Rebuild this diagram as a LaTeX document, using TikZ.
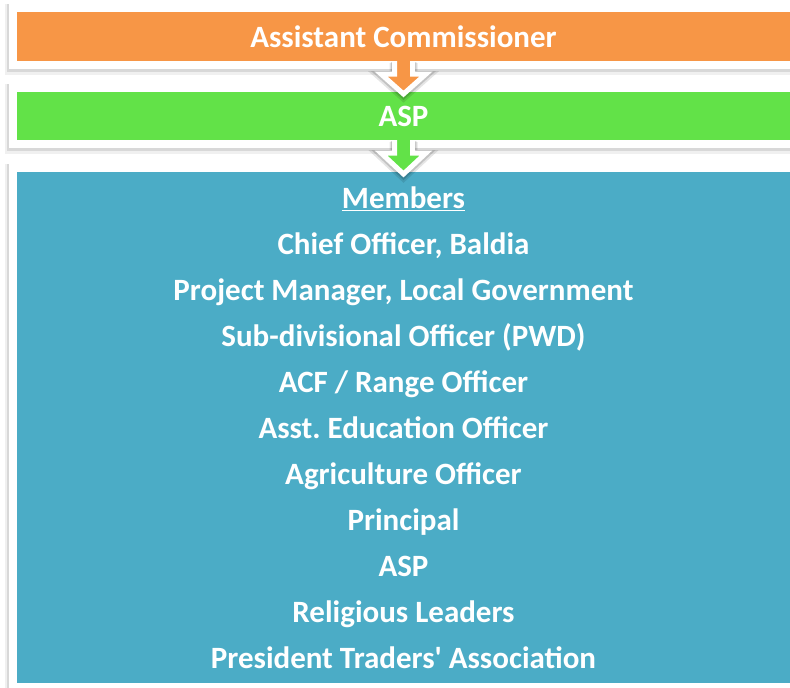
\documentclass[tikz,border=0pt]{standalone}
\usepackage{fontspec}
\setmainfont{Carlito}
\usetikzlibrary{calc}
\definecolor{acorange}{RGB}{247,150,70}
\definecolor{aspgreen}{RGB}{98,226,72}
\definecolor{memblue}{RGB}{75,172,198}
\begin{document}
\begin{tikzpicture}[x=1pt,y=-1pt,
    box/.style={draw=white,line width=8pt,minimum width=781pt,inner sep=0pt,
      text=white,font=\bfseries\fontsize{31}{46}\selectfont,align=center,
      preaction={draw=black,draw opacity=0.06,line width=14pt,transform canvas={shift={(-1.5,2.5)}}},
      preaction={draw=black,draw opacity=0.1,line width=11pt,transform canvas={shift={(-1,1.5)}}}},
    flow/.style={draw=white,line width=5pt,line join=miter,
      preaction={draw=black,draw opacity=0.1,line width=10pt,transform canvas={shift={(0,2)}}},
      preaction={draw=black,draw opacity=0.15,line width=7.5pt,transform canvas={shift={(0,1)}}}}]
    \useasboundingbox (0,0) rectangle (790,688);
    \clip (0,0) rectangle (790,688);
    %% Boxes
    \node[box,fill=acorange,minimum height=57pt] (ac) at (403.5,36.5) {Assistant Commissioner};
    \node[box,fill=aspgreen,minimum height=56pt] (asp) at (403.5,116) {ASP};
    \node[box,fill=memblue,minimum height=519pt] (mem) at (403.5,427.5)
      {\underline{Members}\\Chief Officer, Baldia\\Project Manager, Local Government\\
       Sub-divisional Officer (PWD)\\ACF / Range Officer\\Asst.\ Education Officer\\
       Agriculture Officer\\Principal\\ASP\\Religious Leaders\\President Traders\textquotesingle{} Association};
    %% Block arrows
    \foreach \from/\to/\col in {ac/asp/acorange,asp/mem/aspgreen}
      \filldraw[flow,fill=\col] ($(\from.south)+(-9,-8)$) -- ($(\from.south)+(-9,5)$)
        -- ($(\from.south)+(-22.5,5)$) -- ($(\to.north)+(0,10)$) -- ($(\from.south)+(22.5,5)$)
        -- ($(\from.south)+(9,5)$) -- ($(\from.south)+(9,-8)$);
\end{tikzpicture}
\end{document}
